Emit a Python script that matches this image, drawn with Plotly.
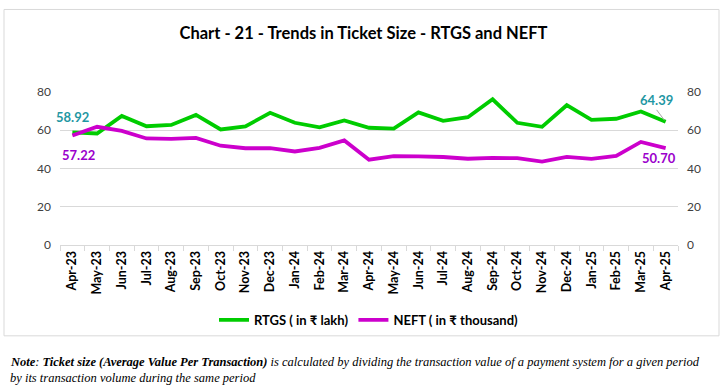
import plotly.graph_objects as go

months = ["Apr-23","May-23","Jun-23","Jul-23","Aug-23","Sep-23","Oct-23","Nov-23","Dec-23",
          "Jan-24","Feb-24","Mar-24","Apr-24","May-24","Jun-24","Jul-24","Aug-24","Sep-24",
          "Oct-24","Nov-24","Dec-24","Jan-25","Feb-25","Mar-25","Apr-25"]
rtgs = [58.92, 58.3, 67.5, 62.1, 62.8, 68.0, 60.4, 62.0, 69.1, 63.9, 61.5, 65.1, 61.3,
        60.9, 69.3, 64.9, 66.8, 76.2, 63.9, 61.8, 73.1, 65.4, 66.0, 69.8, 64.39]
neft = [57.22, 61.8, 59.7, 55.7, 55.5, 56.0, 51.9, 50.6, 50.6, 48.9, 50.8, 54.7, 44.6,
        46.5, 46.3, 46.0, 45.1, 45.6, 45.4, 43.6, 46.1, 45.0, 46.6, 53.9, 50.70]
y_ticks = [0, 20, 40, 60, 80]

GREEN = "#00CC00"
MAGENTA = "#CC00CC"
TEAL = "#1F97A3"
PURPLE = "#9B00CC"
FONT = "Lato, DejaVu Sans, sans-serif"

fig = go.Figure()
fig.add_trace(go.Scatter(x=months, y=rtgs, mode="lines", name="RTGS ( in ₹ lakh)",
                         line=dict(color=GREEN, width=3.8)))
fig.add_trace(go.Scatter(x=months, y=neft, mode="lines", name="NEFT ( in ₹ thousand)",
                         line=dict(color=MAGENTA, width=3.8)))
# invisible trace to activate the right axis
fig.add_trace(go.Scatter(x=months, y=rtgs, yaxis="y2", mode="lines", showlegend=False,
                         line=dict(width=0), hoverinfo="skip", opacity=0))

fig.update_layout(
    width=727, height=390,
    margin=dict(l=60, r=49, t=92, b=145),
    paper_bgcolor="white", plot_bgcolor="white",
    font=dict(family=FONT, color="#404040"),
    title=dict(text="<b>Chart - 21 - Trends in Ticket Size - RTGS and NEFT</b>",
               x=0.5, xanchor="center", y=1 - 33/390, yanchor="middle",
               font=dict(size=16.5, color="black", family=FONT)),
    xaxis=dict(type="category", tickangle=-90, showgrid=False,
               showline=True, linecolor="#d9d9d9", linewidth=1,
               ticks="outside", tickson="boundaries", ticklen=5, tickcolor="#d9d9d9",
               tickfont=dict(size=12.5, color="black", family=FONT, weight="bold"),
               range=[-0.5, len(months) - 0.5]),
    yaxis=dict(range=[0, 80], tickvals=y_ticks, showgrid=True, gridcolor="#d9d9d9",
               zeroline=False, ticks="", tickfont=dict(size=12, color="#404040"),
               ticklabelstandoff=8),
    yaxis2=dict(range=[0, 80], tickvals=y_ticks, overlaying="y", side="right",
                showgrid=False, zeroline=False, ticks="",
                tickfont=dict(size=12, color="#404040"), ticklabelstandoff=8),
    legend=dict(orientation="h", x=0.5, xanchor="center", y=-(320-245)/153.3,
                yanchor="middle", font=dict(size=13, color="black", family=FONT, weight="bold"),
                itemwidth=30, tracegroupgap=0),
    showlegend=True,
)

# chart border
fig.add_shape(type="rect", xref="paper", yref="paper",
              x0=(4-60)/618, x1=(719-60)/618, y0=(245-336)/153.3, y1=(245-9)/153.3,
              line=dict(color="#d9d9d9", width=1), fillcolor="rgba(0,0,0,0)", layer="below")

# data labels
fig.add_annotation(x=months[0], y=rtgs[0], text=f"<b>{rtgs[0]:.2f}</b>", showarrow=False,
                   xshift=0, yshift=15, font=dict(size=13, color=TEAL, family=FONT))
fig.add_annotation(x=months[0], y=neft[0], text=f"<b>{neft[0]:.2f}</b>", showarrow=False,
                   xshift=6, yshift=-19, font=dict(size=13, color=PURPLE, family=FONT))
fig.add_annotation(x=months[-1], y=rtgs[-1], text=f"<b>{rtgs[-1]:.2f}</b>", showarrow=True,
                   arrowhead=0, arrowcolor="#a6a6a6", arrowwidth=1, ax=-9, ay=-12,
                   standoff=2, font=dict(size=13, color=TEAL, family=FONT),
                   xanchor="center", yanchor="bottom")
fig.add_annotation(x=months[-1], y=neft[-1], text=f"<b>{neft[-1]:.2f}</b>", showarrow=False,
                   xshift=-7, yshift=-10, font=dict(size=13, color=PURPLE, family=FONT))

# note below the chart
fig.add_annotation(xref="paper", yref="paper", x=(8-60)/618, y=(245-362)/153.3,
                   xanchor="left", yanchor="middle", showarrow=False, align="left",
                   text="<b><i>Note</i></b><i>: <b>Ticket size (Average Value Per Transaction)</b> is calculated by dividing the transaction value of a payment system for a given period</i>",
                   font=dict(size=12.5, color="black", family="Liberation Serif, serif"))
fig.add_annotation(xref="paper", yref="paper", x=(8-60)/618, y=(245-378)/153.3,
                   xanchor="left", yanchor="middle", showarrow=False, align="left",
                   text="<i>by its transaction volume during the same period</i>",
                   font=dict(size=12.5, color="black", family="Liberation Serif, serif"))

fig.write_html("out.html", config={"displayModeBar": False},
               post_script="document.body.style.margin='0';document.body.style.overflow='hidden';")
